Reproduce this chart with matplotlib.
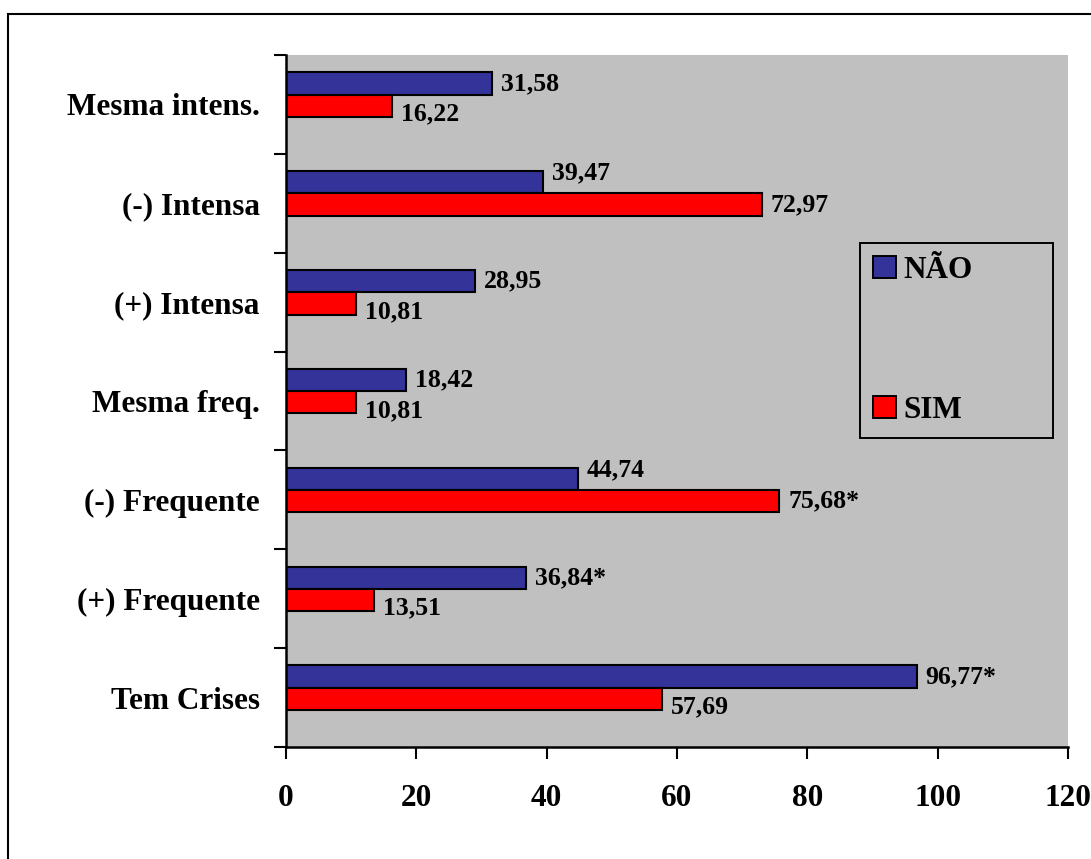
import matplotlib
matplotlib.use("Agg")
import matplotlib.pyplot as plt
from matplotlib.patches import Rectangle, Patch

plt.rcParams['font.family'] = ['Liberation Serif', 'DejaVu Serif']
plt.rcParams['font.weight'] = 'bold'

# Data (bottom to top)
categories = ['Tem Crises', '(+) Frequente', '(-) Frequente', 'Mesma freq.',
              '(+) Intensa', '(-) Intensa', 'Mesma intens.']
nao = [96.77, 36.84, 44.74, 18.42, 28.95, 39.47, 31.58]
sim = [57.69, 13.51, 75.68, 10.81, 10.81, 72.97, 16.22]
nao_sig = [True, True, False, False, False, False, False]
sim_sig = [False, False, True, False, False, False, False]
series_names = ['NÃO', 'SIM']
x_ticks = [0, 20, 40, 60, 80, 100, 120]

BLUE = '#333399'
RED = '#FF0000'
GRAY = '#C0C0C0'

W, H = 1091, 859
fig = plt.figure(figsize=(W / 100, H / 100), dpi=100)
fig.patch.set_facecolor('white')

# outer chart frame
fig.patches.append(Rectangle((8 / W, -0.1), 1.2, 1.1 - 14 / H, transform=fig.transFigure,
                             fill=False, edgecolor='black', linewidth=1.5))

ax = fig.add_axes([286 / W, 1 - 747 / H, (1068 - 286) / W, (747 - 55) / H])
ax.set_facecolor(GRAY)

bar_h = 0.225
shift = 0.1
ypos = list(range(len(categories)))
y_nao = [y + shift + bar_h / 2 for y in ypos]
y_sim = [y + shift - bar_h / 2 for y in ypos]

ax.barh(y_nao, nao, height=bar_h, color=BLUE, edgecolor='black', linewidth=1.5, label=series_names[0])
ax.barh(y_sim, sim, height=bar_h, color=RED, edgecolor='black', linewidth=1.5, label=series_names[1])


def fmt(v, star):
    return f"{v:.2f}".replace('.', ',') + ('*' if star else '')


for i in ypos:
    # keep the two labels apart: the shorter bar's label is nudged away
    dy_nao = 6.5 if nao[i] < sim[i] else 0
    dy_sim = 0 if nao[i] < sim[i] else -6.0
    ax.annotate(fmt(nao[i], nao_sig[i]), (nao[i], y_nao[i]), xytext=(6.5, dy_nao),
                textcoords='offset points', ha='left', va='center',
                fontsize=18.5, fontweight='bold', annotation_clip=False)
    ax.annotate(fmt(sim[i], sim_sig[i]), (sim[i], y_sim[i]), xytext=(6.5, dy_sim),
                textcoords='offset points', ha='left', va='center',
                fontsize=18.5, fontweight='bold', annotation_clip=False)

ax.set_xlim(0, 120)
ax.set_ylim(-0.5, len(categories) - 0.5)
ax.set_xticks(x_ticks)
ax.set_xticklabels([str(t) for t in x_ticks], fontsize=22.5, fontweight='bold')
ax.set_yticks(ypos)
ax.set_yticklabels(categories, fontsize=22.5, fontweight='bold')
ax.set_yticks([y - 0.5 for y in ypos] + [len(categories) - 0.5], minor=True)

ax.tick_params(axis='y', which='major', length=0, pad=19)
ax.tick_params(axis='y', which='minor', length=8.5, width=1.5, direction='out')
ax.tick_params(axis='x', which='major', length=8.5, width=1.5, direction='out', pad=18)

for s in ['top', 'right']:
    ax.spines[s].set_visible(False)
for s in ['left', 'bottom']:
    ax.spines[s].set_linewidth(1.8)

handles = [Patch(facecolor=BLUE, edgecolor='black', linewidth=1.4),
           Patch(facecolor=RED, edgecolor='black', linewidth=1.4)]
leg = ax.legend(handles, series_names, loc='upper left',
                bbox_to_anchor=((860 - 286) / (1068 - 286), (747 - 243) / (747 - 55),
                                (1053 - 860) / (1068 - 286), 0.0),
                mode='expand', prop={'weight': 'bold', 'size': 22.5},
                handlelength=0.72, handleheight=0.72, handletextpad=0.25,
                labelspacing=3.55, borderpad=0.42, borderaxespad=0,
                fancybox=False, framealpha=1, facecolor=GRAY, edgecolor='black')
leg.get_frame().set_linewidth(1.4)

fig.savefig('out.png', dpi=100)
